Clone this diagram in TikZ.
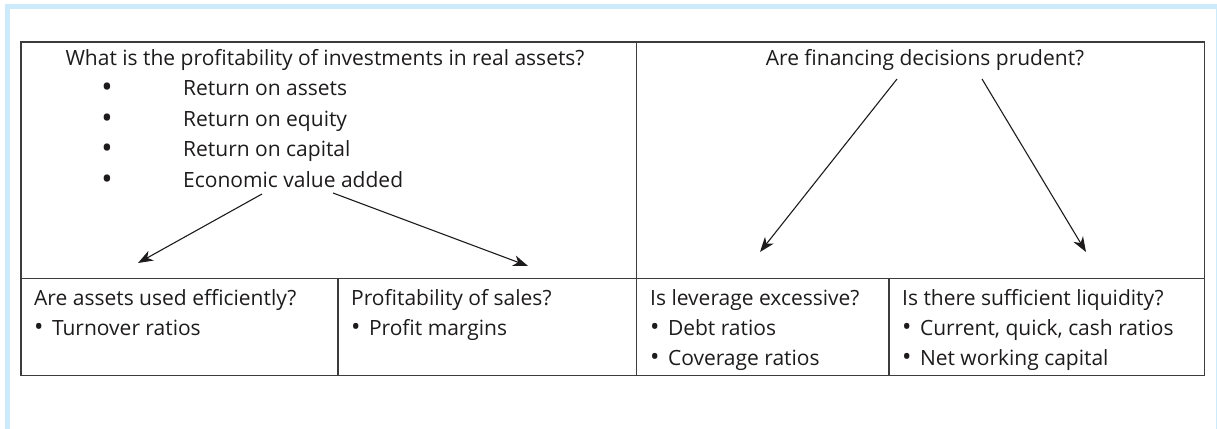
\documentclass[tikz,border=0pt]{standalone}
\usepackage{fontspec}
\setmainfont{Open Sans}
\usetikzlibrary{positioning,arrows.meta}

\definecolor{framecol}{RGB}{204,234,250}
\definecolor{rulecol}{RGB}{60,60,60}
\definecolor{inkcol}{RGB}{30,27,28}

\tikzset{
  grid/.style={draw=rulecol, line width=1.2pt},
  txt/.style={inner sep=0pt, text=inkcol, font=\fontsize{21}{25}\selectfont},
  ask/.style={txt, anchor=base west},
  flow/.style={draw=inkcol, line width=1.1pt, -{Stealth[length=15pt,width=11pt,inset=4.5pt]}}
}
\newcommand{\itm}{{\fontsize{25}{25}\selectfont\textbullet}\hspace{0.4em}}

\begin{document}
\begin{tikzpicture}[x=1pt, y=-1pt]
			\useasboundingbox (0,0) rectangle (1217,428);
			% frame
			\draw[framecol, line width=5pt] (7.5,440) -- (7.5,6.5) -- (1218,6.5) -- (1218,440);
			% table
			\draw[grid] (21,42) rectangle (1204.5,375.5);
			\draw[grid] (21,278.5) -- (1204.5,278.5);
			\draw[grid] (636.5,42) -- (636.5,375.5);
			\draw[grid] (338,278.5) -- (338,375.5);
			\draw[grid] (889,278.5) -- (889,375.5);
			% top cells
			\node[txt, anchor=base] (invest) at (325,65) {What is the profitability of investments in real assets?};
			\node[txt, anchor=base] (finance) at (925,65) {Are financing decisions prudent?};
			\foreach \t [count=\i] in {Return on assets, Return on equity, Return on capital, Economic value added} {
				\node[txt, anchor=base, font=\fontsize{30}{30}\selectfont] (dot\i) at (107,67+30.6*\i) {\textbullet};
				\node[ask] (ret\i) at (183,65+30.6*\i) {\t};
			}
			% bottom cells
			\node[ask] (assets) at (34,305) {Are assets used efficiently?};
			\node[ask] (turn) at (34,335) {\itm Turnover ratios};
			\node[ask] (sales) at (351,305) {Profitability of sales?};
			\node[ask] (margin) at (351,335) {\itm Profit margins};
			\node[ask] (lever) at (650,305) {Is leverage excessive?};
			\node[ask] (debt) at (650,335) {\itm Debt ratios};
			\node[ask] (cover) at (650,365) {\itm Coverage ratios};
			\node[ask] (liquid) at (902,305) {Is there sufficient liquidity?};
			\node[ask] (quick) at (902,335) {\itm Current, quick, cash ratios};
			\node[ask] (nwc) at (902,365) {\itm Net working capital};
			% arrows
			\coordinate (evaL) at (262,194);
			\coordinate (evaR) at (333,193);
			\coordinate (finL) at (897,79);
			\coordinate (finR) at (982,79);
			\coordinate (toAssets) at (138,263);
			\coordinate (toSales) at (528,266);
			\coordinate (toLever) at (760,252);
			\coordinate (toLiquid) at (1086,252);
			\draw[flow] (evaL) -- (toAssets);
			\draw[flow] (evaR) -- (toSales);
			\draw[flow] (finL) -- (toLever);
			\draw[flow] (finR) -- (toLiquid);
		\end{tikzpicture}
\end{document}
